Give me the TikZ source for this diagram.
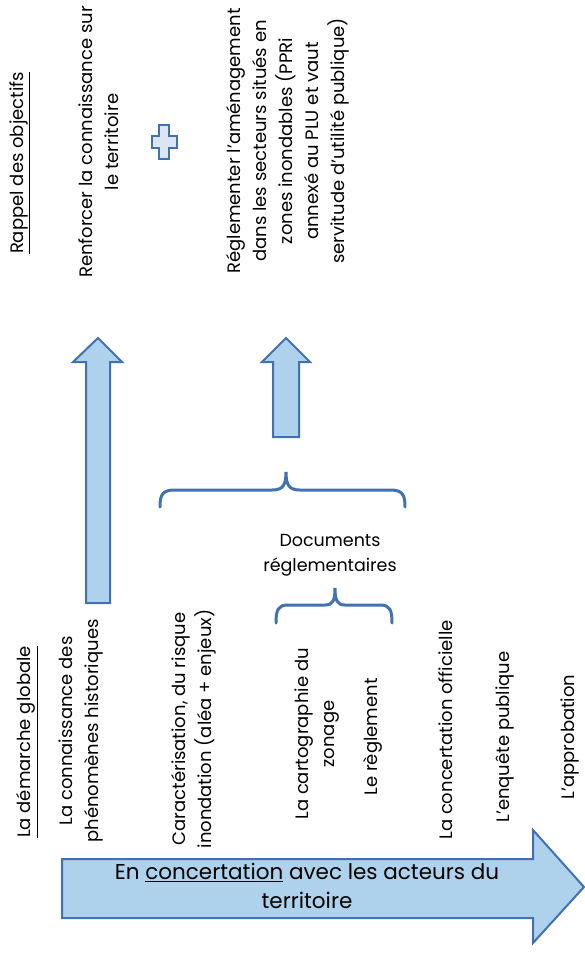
\documentclass[tikz,border=0pt]{standalone}
\usepackage{fontspec}
\setmainfont{Poppins}
\usetikzlibrary{positioning}

\definecolor{bleuclair}{RGB}{174,210,236}
\definecolor{bleutrait}{RGB}{65,113,178}
\definecolor{bleuplus}{RGB}{220,230,242}

\begin{document}
\begin{tikzpicture}[x=1pt, y=1pt,
texte/.style={rotate=90, align=center, inner sep=0pt, font=\fontsize{18}{26}\selectfont},
titre/.style={align=center, inner sep=0pt, font=\fontsize{17.5}{25}\selectfont},
fleche/.style={draw=bleutrait, fill=bleuclair, line width=2pt, line join=miter},
accolade/.style={draw=bleutrait, line width=3pt, line cap=round}
]
\useasboundingbox (0,0) rectangle (585,-960);

\node[texte] at (20,-163) (rappel) {\underline{Rappel des objectifs}};
\node[texte] at (99,-142) (renforcer) {Renforcer la connaissance sur\\le territoire};
\node[texte] at (288,-141) (reglementer) {Réglementer l'aménagement\\dans les secteurs situés en\\zones inondables (PPRi\\annexé au PLU et vaut\\servitude d'utilité publique)};

\node[texte] at (27,-742) (demarche) {\underline{La démarche globale}};
\node[texte] at (81,-731) (connaissance) {La connaissance des\\phénomènes historiques};
\node[texte] at (194,-729) (caracterisation) {Caractérisation, du risque\\inondation (aléa + enjeux)};
\node[texte] at (317,-734) (cartographie) {La cartographie du\\zonage};
\node[texte] at (373,-737) (reglement) {Le règlement};
\node[texte] at (446,-730) (concertation) {La concertation officielle};
\node[texte] at (505,-737) (enquete) {L'enquête publique};
\node[texte] at (570,-737) (approbation) {L'approbation};
\node[titre] at (330,-555) (documents) {Documents\\réglementaires};

\draw[fleche] (86,-603) -- (86,-362) -- (73,-362) -- (98,-338) -- (122,-362) -- (110,-362) -- (110,-603) -- cycle;
\draw[fleche] (273,-437) -- (273,-362) -- (262,-362) -- (286,-338) -- (310,-362) -- (299,-362) -- (299,-437) -- cycle;
\draw[fleche] (62,-859) -- (533,-859) -- (533,-830) -- (584,-887) -- (533,-943) -- (533,-918) -- (62,-918) -- cycle;
\node[titre, font=\fontsize{21.5}{29}\selectfont] at (307,-886) (acteurs) {En \underline{concertation} avec les acteurs du\\territoire};

\draw[fleche, fill=bleuplus] (159,-125) -- (169,-125) -- (169,-136) -- (177,-136) -- (177,-148) -- (169,-148) -- (169,-159) -- (159,-159) -- (159,-148) -- (152,-148) -- (152,-136) -- (159,-136) -- cycle;

\draw[accolade] (160,-507) .. controls (160,-494) and (163,-490) .. (175,-490) -- (272,-490) .. controls (283,-490) and (286,-485) .. (286,-472)
  .. controls (286,-485) and (289,-490) .. (300,-490) -- (390,-490) .. controls (402,-490) and (405,-494) .. (405,-507);
\draw[accolade] (276,-623) .. controls (276,-610) and (278,-605) .. (288,-605) -- (325,-605) .. controls (333,-605) and (335,-600) .. (335,-588)
  .. controls (335,-600) and (337,-605) .. (345,-605) -- (380,-605) .. controls (390,-605) and (392,-610) .. (392,-623);
\end{tikzpicture}
\end{document}
